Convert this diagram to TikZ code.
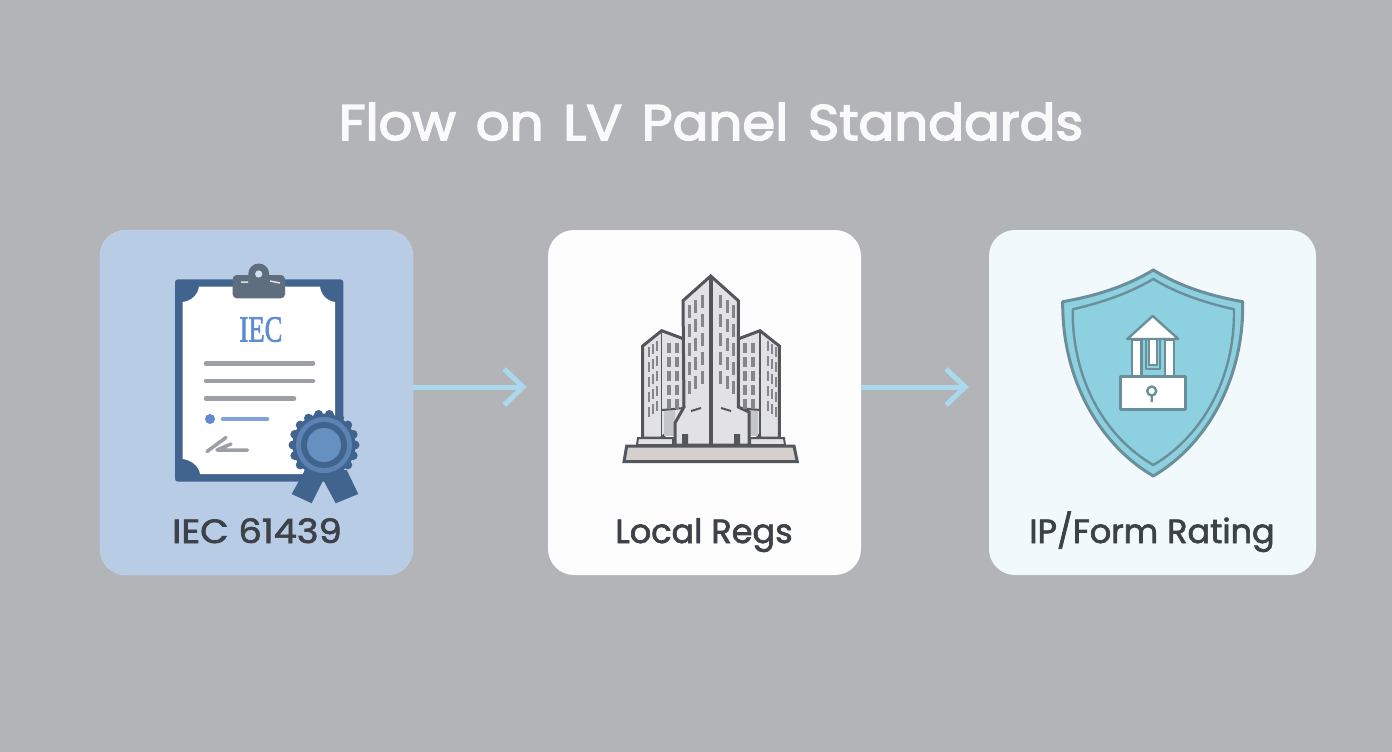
\documentclass[tikz,border=0pt]{standalone}
\usepackage{fontspec}
\setmainfont{Poppins}
\newfontfamily\serifiec[FakeBold=2]{Liberation Serif}
\newfontfamily\titlefont[FakeBold=3,WordSpace=1.4]{Poppins}
\newfontfamily\labelfont[FakeBold=2]{Poppins}
\usetikzlibrary{arrows.meta}
\definecolor{bgcol}{HTML}{B3B4B8}
\definecolor{cardblue}{HTML}{B8CCE6}
\definecolor{cardwhite}{HTML}{FDFDFD}
\definecolor{cardpale}{HTML}{F2F9FC}
\definecolor{arrowcol}{HTML}{AAD9EE}
\definecolor{labelcol}{HTML}{3D4148}
\definecolor{boardcol}{HTML}{41648F}
\definecolor{clipcol}{HTML}{5F6E7E}
\definecolor{linecol}{HTML}{9C9FA6}
\definecolor{inkblue}{HTML}{5F8BD0}
\definecolor{sealcol}{HTML}{5C82B4}
\definecolor{sealin}{HTML}{6590C0}
\definecolor{towercol}{HTML}{55565B}
\definecolor{winscol}{HTML}{85868C}
\definecolor{facelight}{HTML}{E2E2E6}
\definecolor{facedark}{HTML}{C4C5CA}
\definecolor{basecol}{HTML}{D5CFCD}
\definecolor{shieldcol}{HTML}{8DD0DF}
\definecolor{shieldedge}{HTML}{6A8E9A}
\tikzset{
  card/.style={rounded corners=26pt,minimum height=345pt,inner sep=0pt},
  label/.style={font=\labelfont\fontsize{33.5}{36}\selectfont,text=labelcol,inner sep=0pt,anchor=base},
  flow/.style={draw=arrowcol,line width=5pt,-{Straight Barb[length=19pt,width=36pt,line width=5pt]}},
  towerline/.style={draw=towercol,line width=3pt,line join=miter},
  shieldline/.style={draw=shieldedge,line width=3pt,line join=round},
  textrule/.style={draw=linecol,line width=4.5pt,line cap=round},
}
\begin{document}
\begin{tikzpicture}[x=1pt,y=-1pt]
  \useasboundingbox[fill=bgcol] (0,0) rectangle (1392,752);
  % title
  \node (title) at (711,140) [anchor=base,xscale=1.06,text=white!94!bgcol,font=\titlefont\fontsize{50}{54}\selectfont,inner sep=0pt] {Flow on LV Panel Standards};
  % cards
  \node (iec) at (256.5,402.5) [card,minimum width=313pt,fill=cardblue,draw=cardblue!80!white] {};
  \node (regs) at (704.5,402.5) [card,minimum width=313pt,fill=cardwhite] {};
  \node (rating) at (1152.5,402.5) [card,minimum width=327pt,fill=cardpale] {};
  \node (iectext) at (257,543) [label,xscale=1.1] {IEC 61439};
  \node (regstext) at (704,543) [label] {Local Regs};
  \node (ratingtext) at (1152,543) [label] {IP/Form Rating};
  % arrows
  \draw[flow,shorten >=21pt] ([yshift=15.5pt]iec.east) -- ([yshift=15.5pt]regs.west);
  \draw[flow,shorten >=20pt] ([yshift=15.5pt]regs.east) -- ([yshift=15.5pt]rating.west);
  % clipboard
  \fill[boardcol,rounded corners=3pt] (175,279.3) rectangle (343.3,481.7);
  \fill[white] (199,286.5) -- (320,286.5) .. controls (321,295) and (327,301) .. (335,302)
    -- (335,474) -- (200,474) .. controls (199,466) and (191,460) .. (182.7,459)
    -- (182.7,302) .. controls (191,301) and (198,295) .. (199,286.5) -- cycle;
  \fill[clipcol] (258.7,274) circle (10.5);
  \fill[clipcol,rounded corners=4pt] (232.7,275) rectangle (285,298.3);
  \fill[cardblue!60!white] (258.7,274) circle (3.6);
  \draw[white!80!clipcol,line width=1.5pt] (241,282) -- (248,282) (270,281) -- (280,283);
  \node (iecmark) at (261,329.5) [text=inkblue,inner sep=0pt,font=\serifiec\fontsize{37}{40}\selectfont,xscale=.72] {IEC};
  \draw[textrule] (206,363.3) -- (313,363.3);
  \draw[textrule] (206,381) -- (313,381);
  \draw[textrule] (206,398.5) -- (294,398.5);
  \fill[inkblue] (210,419) circle (5);
  \draw[textrule,draw=inkblue!80!white] (223,419) -- (267,419);
  \draw[textrule,line width=3.5pt] (207,451.5) -- (226,437.5);
  \draw[textrule,line width=3.5pt] (217,450) -- (247.5,450) (217,450) -- (231,444);
  % seal
  \fill[boardcol] (305,470) -- (291.7,494) -- (311.7,503.3) -- (323.3,480) -- (335.7,503.3) -- (358.3,494) -- (346.7,470) -- cycle;
  \foreach \a in {0,20,...,340}
    \fill[boardcol] (324,445) ++(\a:31) circle (4.5);
  \fill[boardcol] (324,445) circle (31.5);
  \fill[sealcol] (324,445) circle (28);
  \fill[boardcol] (324,445) circle (23);
  \fill[sealin] (324,445) circle (17);
  % building
  \filldraw[towerline,fill=facelight] (642.7,346) -- (661.7,330.7) -- (684,339) -- (684,420) -- (661,438) -- (642.7,438) -- cycle;
  \filldraw[towerline,fill=facelight] (779.3,346) -- (760,330.7) -- (738,339) -- (738,420) -- (761,438) -- (779.3,438) -- cycle;
  \draw[towerline,line width=1.5pt] (661.7,330.7) -- (661.7,438) (760,330.7) -- (760,438);
  \fill[facedark] (664,410) -- (675,410) -- (675,436) -- (664,436) -- cycle;
  \fill[facedark] (747,410) -- (758,410) -- (758,436) -- (747,436) -- cycle;
  \draw[towerline,line width=2pt] (662,410) -- (684,408) (760,410) -- (738,408);
  \filldraw[towerline,fill=facelight] (683,300.7) -- (710.7,276) -- (738.3,300.7) -- (738.3,407) -- (749,412) -- (749,445) -- (675,445) -- (675,423) -- (684,407) -- cycle;
  \draw[towerline,line width=4pt] (710.7,276) -- (710.7,445);
  \foreach \x/\y in {689/305,695/300,702/295,720/295,727/300,733/305}
    \foreach \r in {0,1,2,3,4}
      \fill[winscol] (\x-1.5,\y+\r*19) rectangle (\x+1.5,\y+\r*19+13);
  \foreach \x/\y in {649/347,653/344,657/341,768/341,772/344,776/347}
    \foreach \r in {0,1,2,3,4}
      \fill[winscol] (\x-1.2,\y+\r*15) rectangle (\x+1.2,\y+\r*15+10);
  \foreach \x in {669,677,745,753}
    \foreach \r in {0,1,2,3,4}
      \fill[winscol] (\x-2,343+\r*14) rectangle (\x+2,343+\r*14+10);
  \draw[towercol,line width=2pt] (691,411) -- (701,408) (721,408) -- (731,411);
  \fill[towercol] (682,434) rectangle (688,445) (734,434) rectangle (740,445);
  \filldraw[towerline,fill=facelight,line width=2pt] (637,445) -- (638,438) -- (673,438) -- (673,445) -- cycle;
  \filldraw[towerline,fill=facelight,line width=2pt] (785,445) -- (784,438) -- (750,438) -- (750,445) -- cycle;
  \filldraw[towerline,fill=basecol] (626.7,446) -- (794,446) -- (797.3,461.7) -- (624,461.7) -- cycle;
  % shield
  \filldraw[shieldline,fill=shieldcol] (1153.3,270) .. controls (1125,287) and (1095,296) .. (1062.7,301.7)
    .. controls (1062,380) and (1100,445) .. (1153.3,476)
    .. controls (1206,445) and (1244,380) .. (1242.7,301.7)
    .. controls (1211,296) and (1181,287) .. (1153.3,270) -- cycle;
  \draw[shieldline,line width=2.4pt] (1153.3,279) .. controls (1128,294) and (1100,303) .. (1072.7,309.3)
    .. controls (1072,380) and (1105,437) .. (1153.3,465)
    .. controls (1201,437) and (1235,380) .. (1234,309.3)
    .. controls (1206,303) and (1178,294) .. (1153.3,279) -- cycle;
  \filldraw[shieldline,fill=white,line width=2.4pt] (1152.7,316) -- (1127.3,339) -- (1178.3,339) -- cycle;
  \filldraw[shieldline,fill=white,line width=2.4pt] (1132,340) rectangle (1141.5,376);
  \filldraw[shieldline,fill=white,line width=2.4pt] (1165,340) rectangle (1174,376);
  \filldraw[shieldline,fill=white,line width=2pt] (1148.5,340) -- (1148.5,365) -- (1156.5,365) -- (1156.5,340);
  \draw[shieldline,line width=1.8pt] (1146,340) -- (1146,369) -- (1160,369) -- (1160,340);
  \filldraw[shieldline,fill=white] (1120.7,376) rectangle (1185,409.3);
  \draw[shieldline,line width=2.4pt] (1151.7,391) circle (4.5) (1151.7,395.5) -- (1151.7,402);
\end{tikzpicture}
\end{document}
